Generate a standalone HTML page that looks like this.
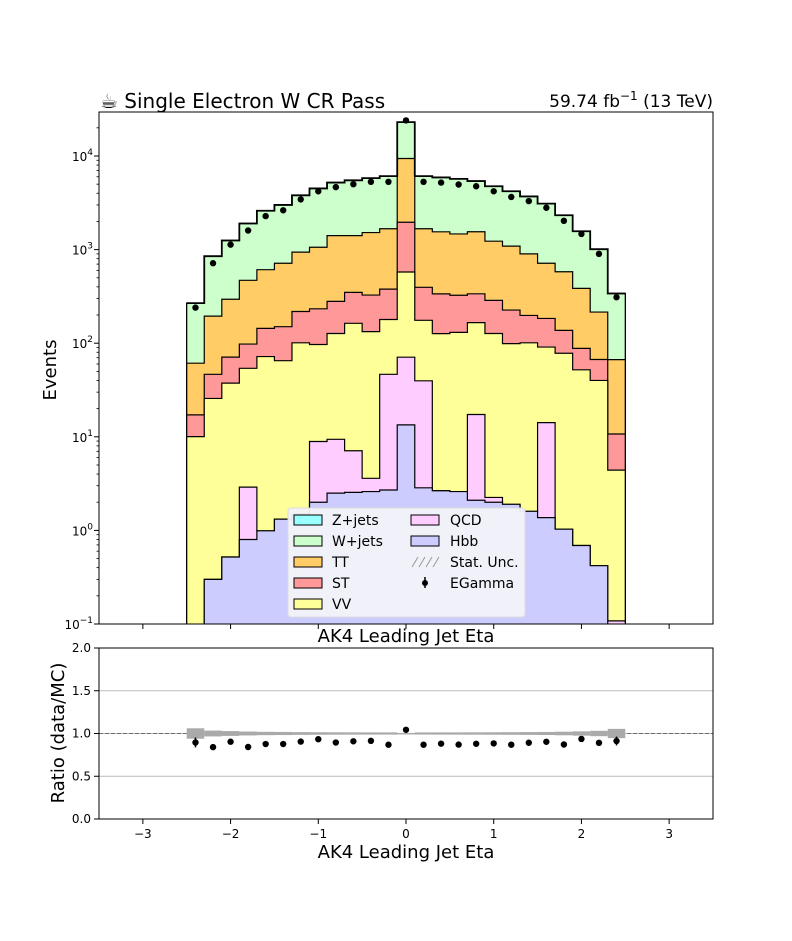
<!DOCTYPE html>
<html><head><meta charset="utf-8"><style>
body{margin:0;background:#fff;}
svg{font-family:"DejaVu Sans","Liberation Sans",sans-serif;}
</style></head><body>
<svg id="c" width="792" height="936" xmlns="http://www.w3.org/2000/svg"></svg>
<script>
const edges0 = -2.5, binW = 0.2;
const hbb = [0.05,0.30,0.52,0.80,0.99,1.32,1.5,2.0,2.5,2.55,2.6,2.7,13.4,2.85,2.65,2.6,2.1,2.0,1.9,1.6,1.37,1.03,0.69,0.42,0.05];
const qcd = [0,0,0,2.1,0,0,0,6.9,6.9,4.55,1.0,43.8,57.5,36.8,0,0,15.2,0.25,0,0,12.8,0,0,0,0.058];
const vv = [10,25.4,36.9,51,71,63.7,99.5,88,117.6,156,129.4,132.5,505,136,124,128,148.7,124.7,97,99.4,76.8,77,51.3,39.6,4.3];
const st = [7.1,20.8,33.6,44,72,85,117,136,153,186,194,199,1384,220,210,195,171,160,127,97,93,59,36,27,6.3];
const tt = [44,148,224,372,466,565,722,827,1130,1061,1193,1292,7440,1274,1213,1144,1213,943,864,702,531,443,297,148,56];
const wjets = [207,656,955,1430,1990,2285,2860,3440,3790,4090,4280,4430,13600,4430,4350,4230,3850,3520,3110,2800,2385,1750,1185,795,273];
const zjets = [0,0,0,0,0,0,0,0,0,0,0,0,0,0,0,0,0,0,0,0,0,0,0,0,0];
const dataY = [240,715,1130,1600,2280,2630,3440,4200,4650,5000,5300,5300,24000,5300,5200,4960,4750,4200,3650,3300,2800,2030,1470,900,310];
const xTicks = [-3,-2,-1,0,1,2,3];
const rTicks = [0.0,0.5,1.0,1.5,2.0];

const svg = document.getElementById('c');
const NS = 'http://www.w3.org/2000/svg';
function mk(tag, at, parent){const e=document.createElementNS(NS,tag);for(const k in at)e.setAttribute(k,at[k]);(parent||svg).appendChild(e);return e;}
const L=99,R=713,T=112,B=624,RT=648,RB=819;
const X = v => L + (v+3.5)/7*(R-L);
const Yl = v => 624 - (Math.log10(Math.max(v,1e-3))+1)*93.6;
const Yr = v => RB - v/2*(RB-RT);
const n = dataY.length;

const clip = mk('clipPath',{id:'mc'}); mk('rect',{x:L,y:T,width:R-L,height:B-T},clip);
const g = mk('g',{'clip-path':'url(#mc)'});



const comps = [['Hbb',hbb,'#ccccff'],['QCD',qcd,'#ffccff'],['VV',vv,'#ffff99'],['ST',st,'#ff9999'],['TT',tt,'#ffcc66'],['W+jets',wjets,'#ccffcc'],['Z+jets',zjets,'#99ffff']];
const cum = new Array(n).fill(0);
const layers=[];
comps.forEach(c=>{for(let i=0;i<n;i++)cum[i]+=c[1][i];layers.push([c,cum.slice()]);});
const xs0=X(edges0), xsN=X(edges0+n*binW), base=B+10;
layers.slice().reverse().forEach(([c,hi])=>{
  let d='M'+xs0+','+base;
  for(let i=0;i<n;i++){const x0=X(edges0+i*binW),x1=X(edges0+(i+1)*binW),y=Yl(hi[i]);d+='L'+x0+','+y+'L'+x1+','+y;}
  d+='L'+xsN+','+base;
  const p=mk('path',{d:d+'Z',fill:c[2],stroke:'#000','stroke-width':1.2,'stroke-linejoin':'miter'},g);
  
  
});
let d='';
for(let i=0;i<n;i++){const x0=X(edges0+i*binW),x1=X(edges0+(i+1)*binW),y=Yl(cum[i]);d+=(i?'L':'M')+x0+','+y+'L'+x1+','+y;}
const tl=mk('path',{d:d,fill:'none',stroke:'#000','stroke-width':1.8},g);


for(let i=0;i<n;i++){
  const cx=X(edges0+(i+0.5)*binW);
  const p=mk('circle',{cx:cx,cy:Yl(dataY[i]),r:3.2,fill:'#000'},g);
  
  
}
mk('rect',{x:L,y:T,width:R-L,height:B-T,fill:'none',stroke:'#000','stroke-width':1});
for(let e=-1;e<=4;e++){
  const y=Yl(Math.pow(10,e));
  mk('line',{x1:L-5,x2:L,y1:y,y2:y,stroke:'#000'});
  const t=mk('text',{x:L-6,y:y+5,'text-anchor':'end','font-size':12});
  t.innerHTML='10<tspan dy="-6" font-size="9">'+e.toString().replace('-','−')+'</tspan>';
  
  
  for(let m=2;m<10;m++){const ym=Yl(m*Math.pow(10,e));if(ym<T)break;mk('line',{x1:L-2.5,x2:L,y1:ym,y2:ym,stroke:'#000','stroke-width':0.8});}
}
xTicks.forEach(v=>{mk('line',{x1:X(v),x2:X(v),y1:B,y2:B+5,stroke:'#000'});});
function txt(x,y,s,sz,anchor,name,extra){const t=mk('text',Object.assign({x:x,y:y,'font-size':sz,'text-anchor':anchor||'start'},extra||{}));t.innerHTML=s;return t;}
txt(100,108,'☕ Single Electron W CR Pass',20,'start','plot-title');
txt(713,107,'59.74 fb<tspan dy="-7" font-size="12">−1</tspan><tspan dy="7"> (13 TeV)</tspan>',17,'end','lumi-label');
txt(56,370,'Events',18,'middle','y-axis-title',{transform:'rotate(-90 56 370)'});
txt(406,642,'AK4 Leading Jet Eta',18,'middle','main-x-axis-title');
const lg=mk('g',{});


mk('rect',{x:288,y:508,width:237,height:109,rx:3,fill:'#f2f2fa',stroke:'#ddd','fill-opacity':0.95},lg);
const leg=[['Z+jets','#99ffff'],['W+jets','#ccffcc'],['TT','#ffcc66'],['ST','#ff9999'],['VV','#ffff99']];
leg.forEach((e,i)=>{const y=515+i*21;mk('rect',{x:294,y:y,width:28,height:10,fill:e[1],stroke:'#000'},lg);txt(332,y+10,e[0],14,'start','legend-entry-'+e[0].toLowerCase().replace('+',''));});
[['QCD','#ffccff'],['Hbb','#ccccff']].forEach((e,i)=>{const y=515+i*21;mk('rect',{x:411,y:y,width:28,height:10,fill:e[1],stroke:'#000'},lg);txt(450,y+10,e[0],14,'start','legend-entry-'+e[0].toLowerCase());});
for(let k=0;k<4;k++)mk('line',{x1:412+k*7,y1:567,x2:418+k*7,y2:557,stroke:'#999','stroke-width':1},lg);
txt(450,567,'Stat. Unc.',14,'start','legend-entry-stat-unc');
mk('line',{x1:425,x2:425,y1:577,y2:588,stroke:'#000','stroke-width':1.5},lg);mk('circle',{cx:425,cy:583,r:3,fill:'#000'},lg);
txt(450,588,'EGamma',14,'start','legend-entry-egamma');

rTicks.forEach(v=>{const y=Yr(v);if(v>0&&v<2)mk('line',{x1:L,x2:R,y1:y,y2:y,stroke:'#bbb','stroke-width':1});mk('line',{x1:L-5,x2:L,y1:y,y2:y,stroke:'#000'});txt(L-8,y+4,v.toFixed(1),12,'end','ratio-tick-label');});
mk('line',{x1:L,x2:R,y1:Yr(1),y2:Yr(1),stroke:'#555','stroke-dasharray':'4,2','stroke-width':0.8});
for(let i=0;i<n;i++){
  const x0=X(edges0+i*binW),x1=X(edges0+(i+1)*binW);
  if(cum[i]<=0)continue;
  const e=1/Math.sqrt(cum[i]);
  const r=mk('rect',{x:x0,y:Yr(1+e),width:x1-x0,height:Math.max(Yr(1-e)-Yr(1+e),1.5),fill:'#aaa'});
  
  
}
for(let i=0;i<n;i++){
  const cx=X(edges0+(i+0.5)*binW),rv=dataY[i]/cum[i],er=rv/Math.sqrt(dataY[i]);
  mk('line',{x1:cx,x2:cx,y1:Yr(rv+er),y2:Yr(rv-er),stroke:'#000','stroke-width':1.5});
  const p=mk('circle',{cx:cx,cy:Yr(rv),r:3.2,fill:'#000'});
  
  
}
mk('rect',{x:L,y:RT,width:R-L,height:RB-RT,fill:'none',stroke:'#000'});
xTicks.forEach(v=>{mk('line',{x1:X(v),x2:X(v),y1:RB,y2:RB+5,stroke:'#000'});txt(X(v),RB+19,v<0?'−'+(-v):String(v),12,'middle','x-tick-label');});
txt(64,733,'Ratio (data/MC)',18,'middle','ratio-y-axis-title',{transform:'rotate(-90 64 733)'});
txt(406,858,'AK4 Leading Jet Eta',18,'middle','x-axis-title');
</script>
</body></html>
